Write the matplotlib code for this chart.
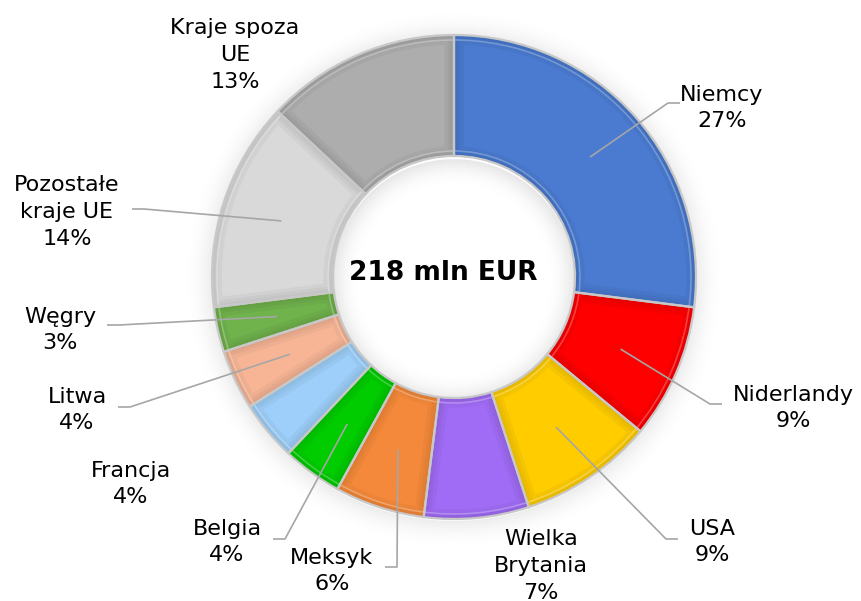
import numpy as np
import matplotlib.pyplot as plt
import matplotlib.colors as mcolors
from matplotlib.patches import Wedge

# ==========================================================
# DATA
# ==========================================================
countries = ["Niemcy", "Niderlandy", "USA", "Wielka\nBrytania", "Meksyk",
             "Belgia", "Francja", "Litwa", "Węgry", "Pozostałe\nkraje UE",
             "Kraje spoza\nUE"]
shares = [27, 9, 9, 7, 6, 4, 4, 4, 3, 14, 13]
colors = ["#4A7BD0", "#FF0000", "#FFCC00", "#A06CF5", "#F5893B",
          "#00CC00", "#9DCFFA", "#F7B596", "#70B24C", "#D9D9D9", "#ADADAD"]
total_text = "218 mln EUR"

# ==========================================================
# LAYOUT (pixels, origin top-left)
# ==========================================================
W_PX, H_PX = 861, 601
CX, CY = 454, 277
R_OUT = 242
RING = 121

# text centre, and leader end point (None = no leader line)
label_pos = [
    ((722, 108), (680, 103)),
    ((793, 408), (722, 404)),
    ((712, 542), (678, 539)),
    ((541, 566), None),
    ((332, 571), (385, 567)),
    ((227, 542), (273, 539)),
    ((131, 484), None),
    ((77, 410), (118, 407)),
    ((60, 330), (107, 325)),
    ((67, 212), (132, 209)),
    ((235, 55), None),
]


def fy(y):
    return H_PX - y


fig = plt.figure(figsize=(8.61, 6.01), dpi=100)
ax = fig.add_axes([0, 0, 1, 1])
cy = fy(CY)

# soft outer shadow
for k in range(1, 28):
    a = 0.13 * (1 - k / 28) ** 2
    ax.add_patch(Wedge((CX, cy - 2), R_OUT + k, 0, 360, width=1.2,
                       facecolor="#808080", edgecolor="none", alpha=a, zorder=1))
# inner shadow in the hole
r_in = R_OUT - RING
for k in range(0, 26):
    a = 0.16 * (1 - k / 26) ** 2
    ax.add_patch(Wedge((CX, cy - 3), r_in - k, 0, 360, width=1.2,
                       facecolor="#808080", edgecolor="none", alpha=a, zorder=1))

wedges, _ = ax.pie(shares, colors=colors, startangle=90, counterclock=False,
                   radius=R_OUT, center=(CX, cy),
                   wedgeprops=dict(width=RING, edgecolor="none", zorder=2))

# bevel look: darker soft band along each wedge edge, light inner line
for w, c in zip(wedges, colors):
    rgb = np.array(mcolors.to_rgb(c))
    dark = rgb * 0.80
    light = rgb + (1 - rgb) * 0.45
    for lw in (14, 9, 5):
        band = Wedge((CX, cy), R_OUT, w.theta1, w.theta2, width=RING,
                     fill=False, edgecolor=dark, linewidth=lw, alpha=0.18,
                     zorder=3)
        band.set_clip_path(w)
        ax.add_patch(band)
    hi = Wedge((CX, cy), R_OUT - 5, w.theta1 - 1.2, w.theta2 + 1.2,
               width=RING - 10, fill=False, edgecolor=light, linewidth=1.2,
               alpha=0.55, zorder=3.2)
    hi.set_clip_path(w)
    ax.add_patch(hi)
    ax.add_patch(Wedge((CX, cy), R_OUT, w.theta1, w.theta2, width=RING,
                       fill=False, edgecolor="#C8C8C8", linewidth=1.6,
                       zorder=3.8))

# labels and leader lines
total = sum(shares)
for w, name, val, (tpos, lend) in zip(wedges, countries, shares, label_pos):
    ax.text(tpos[0], fy(tpos[1]), f"{name}\n{round(val / total * 100)}%",
            ha="center", va="center", fontsize=16, linespacing=1.42,
            color="black", zorder=6)
    if lend is None:
        continue
    mid = np.deg2rad((w.theta1 + w.theta2) / 2)
    r_mid = R_OUT - RING / 2
    ax0, ay0 = CX + r_mid * np.cos(mid), cy + r_mid * np.sin(mid)
    side = 1 if lend[0] > CX else -1
    ex, ey = lend[0], fy(lend[1])
    ax.plot([ax0, ex - side * 12, ex], [ay0, ey, ey],
            color="#A6A6A6", linewidth=1.2, zorder=5,
            solid_capstyle="butt")

ax.text(CX - 11, cy + 4, total_text, ha="center", va="center", fontsize=19,
        fontweight="bold", color="black", zorder=6)

ax.set_xlim(0, W_PX)
ax.set_ylim(0, H_PX)
ax.set_aspect("equal")
ax.axis("off")

fig.savefig("out.png", dpi=100, facecolor="white")
